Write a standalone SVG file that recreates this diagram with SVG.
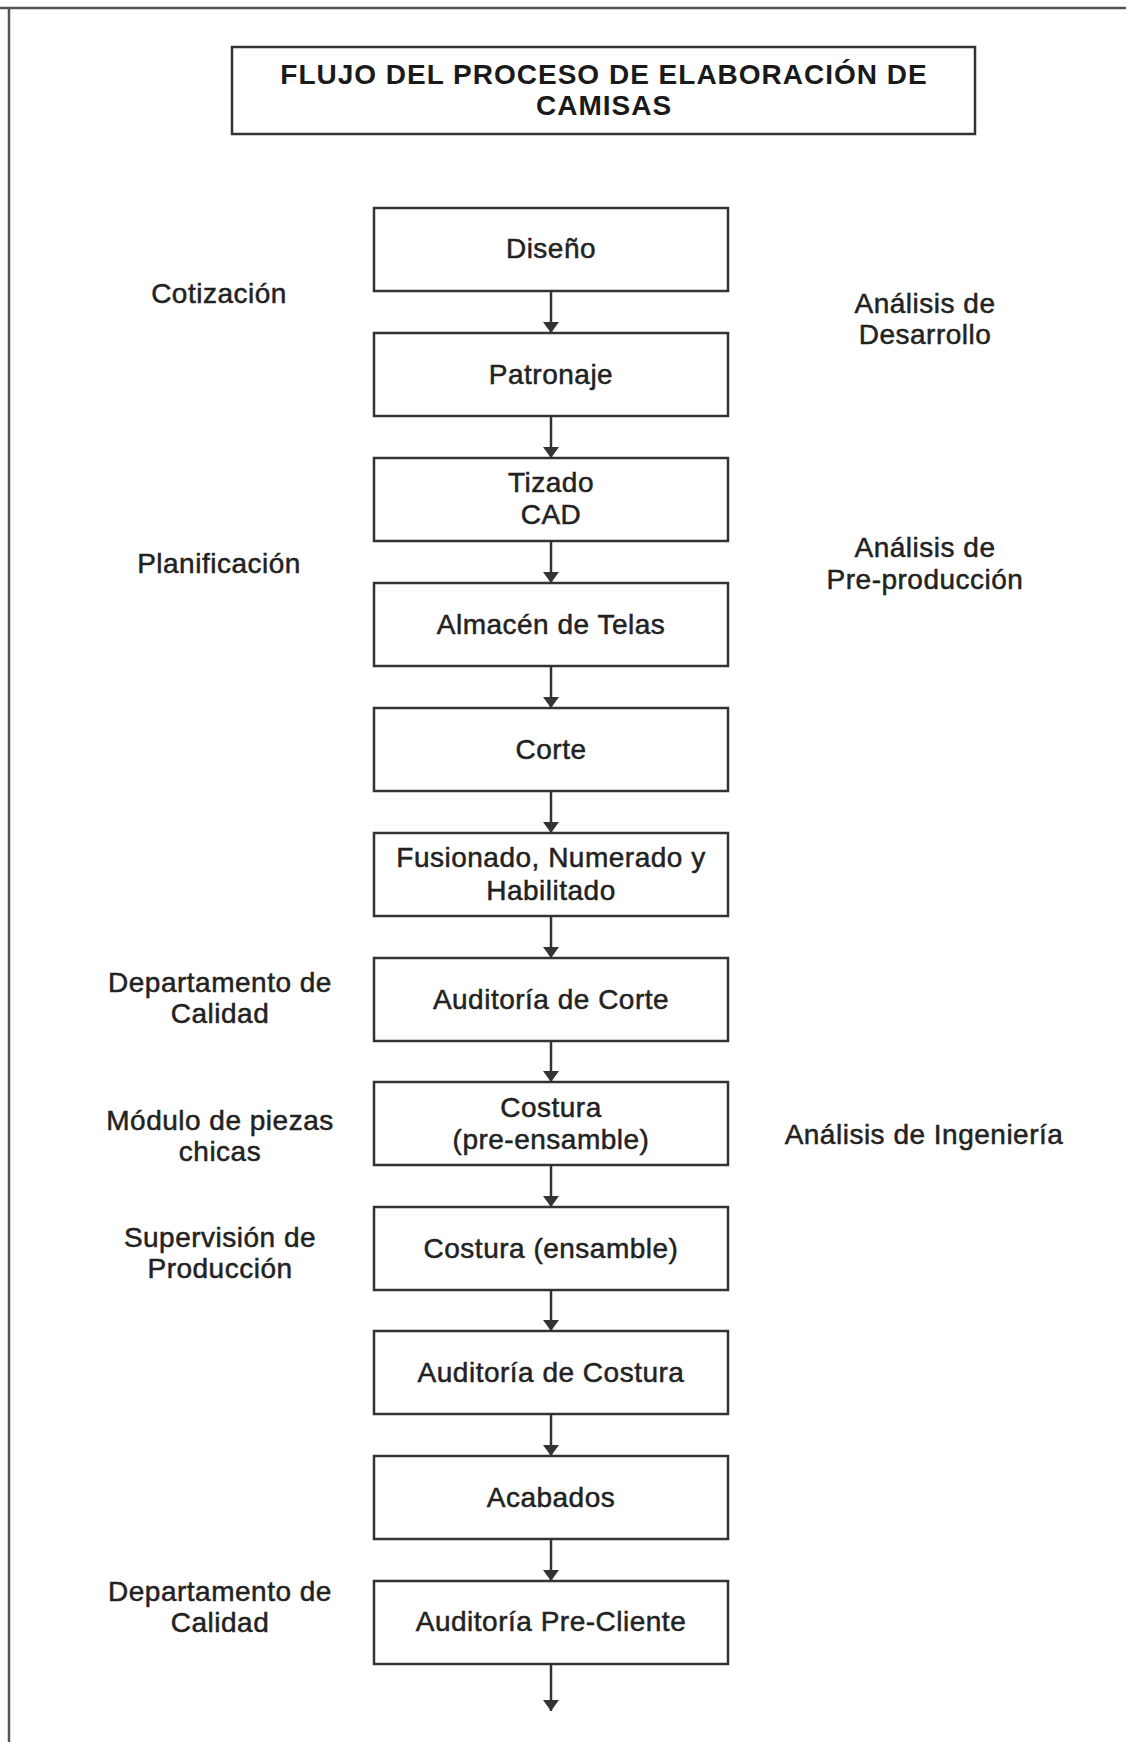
<svg xmlns="http://www.w3.org/2000/svg" width="1126" height="1742" viewBox="0 0 1126 1742">
  <style>
    .frame { stroke: #555; stroke-width: 2.5; fill: none; }
    .box { fill: #fff; stroke: #333; stroke-width: 2.5; }
    .link { stroke: #333; stroke-width: 2.5; fill: none; }
    .title { font-family: "Liberation Sans", Arial, sans-serif; font-weight: bold; font-size: 28px; letter-spacing: 1px; fill: #1a1a1a; text-anchor: middle; }
    .txt { font-family: "Liberation Sans", Arial, sans-serif; font-size: 28px; letter-spacing: 0.5px; fill: #222; stroke: #222; stroke-width: 0.5; text-anchor: middle; }
  </style>
  <defs>
    <marker id="arrow" markerUnits="userSpaceOnUse" markerWidth="18" markerHeight="18" refX="11" refY="8" orient="auto">
      <path d="M0,0 L11,8 L0,16 Z" fill="#333"/>
    </marker>
  </defs>

  <rect width="1126" height="1742" fill="#fff"/>

  <!-- page frame -->
  <g id="frame">
    <line class="frame" x1="0" y1="8" x2="1126" y2="8"/>
    <line class="frame" x1="9" y1="8" x2="9" y2="1742"/>
  </g>

  <!-- heading -->
  <g id="title">
    <rect class="box" x="232" y="47" width="743" height="87"/>
    <text class="title" x="604" y="84">FLUJO DEL PROCESO DE ELABORACIÓN DE</text>
    <text class="title" x="604" y="115">CAMISAS</text>
  </g>

  <!-- connectors -->
  <g id="connectors">
    <line class="link" x1="551" y1="291" x2="551" y2="333" marker-end="url(#arrow)"/>
    <line class="link" x1="551" y1="416" x2="551" y2="458" marker-end="url(#arrow)"/>
    <line class="link" x1="551" y1="541" x2="551" y2="583" marker-end="url(#arrow)"/>
    <line class="link" x1="551" y1="666" x2="551" y2="708" marker-end="url(#arrow)"/>
    <line class="link" x1="551" y1="791" x2="551" y2="833" marker-end="url(#arrow)"/>
    <line class="link" x1="551" y1="916" x2="551" y2="958" marker-end="url(#arrow)"/>
    <line class="link" x1="551" y1="1041" x2="551" y2="1082" marker-end="url(#arrow)"/>
    <line class="link" x1="551" y1="1165" x2="551" y2="1207" marker-end="url(#arrow)"/>
    <line class="link" x1="551" y1="1290" x2="551" y2="1331" marker-end="url(#arrow)"/>
    <line class="link" x1="551" y1="1414" x2="551" y2="1456" marker-end="url(#arrow)"/>
    <line class="link" x1="551" y1="1539" x2="551" y2="1581" marker-end="url(#arrow)"/>
    <line class="link" x1="551" y1="1664" x2="551" y2="1711" marker-end="url(#arrow)"/>
  </g>

  <!-- process steps -->
  <g id="n-diseno">
    <rect class="box" x="374" y="208" width="354" height="83"/>
    <text class="txt" x="551" y="258">Diseño</text>
  </g>
  <g id="n-patronaje">
    <rect class="box" x="374" y="333" width="354" height="83"/>
    <text class="txt" x="551" y="384">Patronaje</text>
  </g>
  <g id="n-tizado">
    <rect class="box" x="374" y="458" width="354" height="83"/>
    <text class="txt" x="551" y="492">Tizado</text>
    <text class="txt" x="551" y="524">CAD</text>
  </g>
  <g id="n-almacen">
    <rect class="box" x="374" y="583" width="354" height="83"/>
    <text class="txt" x="551" y="634">Almacén de Telas</text>
  </g>
  <g id="n-corte">
    <rect class="box" x="374" y="708" width="354" height="83"/>
    <text class="txt" x="551" y="759">Corte</text>
  </g>
  <g id="n-fusionado">
    <rect class="box" x="374" y="833" width="354" height="83"/>
    <text class="txt" x="551" y="867">Fusionado, Numerado y</text>
    <text class="txt" x="551" y="900">Habilitado</text>
  </g>
  <g id="n-auditoria-corte">
    <rect class="box" x="374" y="958" width="354" height="83"/>
    <text class="txt" x="551" y="1009">Auditoría de Corte</text>
  </g>
  <g id="n-costura-pre">
    <rect class="box" x="374" y="1082" width="354" height="83"/>
    <text class="txt" x="551" y="1117">Costura</text>
    <text class="txt" x="551" y="1149">(pre-ensamble)</text>
  </g>
  <g id="n-costura-ensamble">
    <rect class="box" x="374" y="1207" width="354" height="83"/>
    <text class="txt" x="551" y="1258">Costura (ensamble)</text>
  </g>
  <g id="n-auditoria-costura">
    <rect class="box" x="374" y="1331" width="354" height="83"/>
    <text class="txt" x="551" y="1382">Auditoría de Costura</text>
  </g>
  <g id="n-acabados">
    <rect class="box" x="374" y="1456" width="354" height="83"/>
    <text class="txt" x="551" y="1507">Acabados</text>
  </g>
  <g id="n-auditoria-precliente">
    <rect class="box" x="374" y="1581" width="354" height="83"/>
    <text class="txt" x="551" y="1631">Auditoría Pre-Cliente</text>
  </g>

  <!-- responsible areas, left side -->
  <g id="l-cotizacion">
    <text class="txt" x="219" y="303">Cotización</text>
  </g>
  <g id="l-planificacion">
    <text class="txt" x="219" y="573">Planificación</text>
  </g>
  <g id="l-calidad-1">
    <text class="txt" x="220" y="992">Departamento de</text>
    <text class="txt" x="220" y="1023">Calidad</text>
  </g>
  <g id="l-modulo">
    <text class="txt" x="220" y="1130">Módulo de piezas</text>
    <text class="txt" x="220" y="1161">chicas</text>
  </g>
  <g id="l-supervision">
    <text class="txt" x="220" y="1247">Supervisión de</text>
    <text class="txt" x="220" y="1278">Producción</text>
  </g>
  <g id="l-calidad-2">
    <text class="txt" x="220" y="1601">Departamento de</text>
    <text class="txt" x="220" y="1632">Calidad</text>
  </g>

  <!-- analysis stages, right side -->
  <g id="r-desarrollo">
    <text class="txt" x="925" y="313">Análisis de</text>
    <text class="txt" x="925" y="344">Desarrollo</text>
  </g>
  <g id="r-preproduccion">
    <text class="txt" x="925" y="557">Análisis de</text>
    <text class="txt" x="925" y="589">Pre-producción</text>
  </g>
  <g id="r-ingenieria">
    <text class="txt" x="924" y="1144">Análisis de Ingeniería</text>
  </g>
</svg>
